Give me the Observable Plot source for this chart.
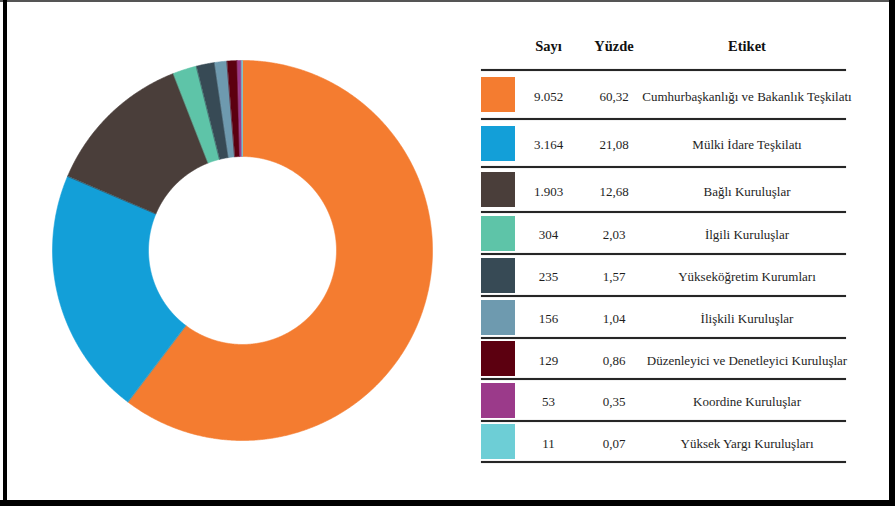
<!DOCTYPE html>
<html><head><meta charset="utf-8">
<script src="https://cdn.jsdelivr.net/npm/d3@7"></script>
<script src="https://cdn.jsdelivr.net/npm/@observablehq/plot@0.6"></script>
<style>
html,body{margin:0;padding:0;background:#fff;}
#page{position:relative;width:895px;height:506px;overflow:hidden;background:#fff;font-family:"Liberation Serif","Times New Roman",serif;color:#1e1e1e;}
.fl{position:absolute;left:3px;top:0;width:4px;height:506px;background:#000;}
.ft{position:absolute;left:0;top:0;width:895px;height:2px;background:#555;}
.fr{position:absolute;left:889px;top:0;width:6px;height:506px;background:#000;}
.fb{position:absolute;left:0;top:500px;width:895px;height:6px;background:#000;}
#chart{position:absolute;left:0;top:0;}
.cell{position:absolute;transform:translate(-50%,-50%);white-space:nowrap;font-size:13px;line-height:1;}
.hdr{font-weight:bold;font-size:14.5px;color:#111;}
.rule{position:absolute;left:481px;width:365px;height:2px;background:#262626;box-shadow:0 0 1px #777;}
.sw{position:absolute;left:481px;width:34px;height:35px;}
</style></head><body>
<div id="page">
<div class="ft"></div><div class="fl"></div><div class="fr"></div><div class="fb"></div>
<div id="chart"></div>
<div id="table"></div>
</div>
<script>
// ---- data ----
const labels = [
  "Cumhurbaşkanlığı ve Bakanlık Teşkilatı",
  "Mülki İdare Teşkilatı",
  "Bağlı Kuruluşlar",
  "İlgili Kuruluşlar",
  "Yükseköğretim Kurumları",
  "İlişkili Kuruluşlar",
  "Düzenleyici ve Denetleyici Kuruluşlar",
  "Koordine Kuruluşlar",
  "Yüksek Yargı Kuruluşları"
];
const counts = [9052, 3164, 1903, 304, 235, 156, 129, 53, 11];
const percents = [60.32, 21.08, 12.68, 2.03, 1.57, 1.04, 0.86, 0.35, 0.07];
const colors = ["#F47C30", "#139FD8", "#4A3E3A", "#5EC4A8", "#374A55", "#6E9AAF", "#5C0010", "#9B3A8A", "#6DCED6"];
const headers = ["Sayı", "Yüzde", "Etiket"];

// ---- donut ----
const W = 484, H = 500, R = 190, r = 94;
const pie = d3.pie().sort(null).value(d => d.count)(labels.map((l, i) => ({label: l, count: counts[i]})));
const pts = [];
pie.forEach(s => {
  const n = Math.max(2, Math.ceil((s.endAngle - s.startAngle) / 0.005));
  for (let k = 0; k <= n; k++) {
    const a = s.startAngle + (s.endAngle - s.startAngle) * k / n;
    pts.push({label: s.data.label, x: R * Math.sin(a), y: R * Math.cos(a)});
  }
  for (let k = n; k >= 0; k--) {
    const a = s.startAngle + (s.endAngle - s.startAngle) * k / n;
    pts.push({label: s.data.label, x: r * Math.sin(a), y: r * Math.cos(a)});
  }
});
const chart = Plot.plot({
  width: W, height: H, margin: 0,
  x: {domain: [-W / 2, W / 2], axis: null},
  y: {domain: [-H / 2, H / 2], axis: null},
  color: {type: "ordinal", domain: labels, range: colors},
  marks: [
    Plot.line(pts, {x: "x", y: "y", z: "label", fill: "label", stroke: "label", strokeWidth: 0.6, curve: "linear-closed"})
  ]
});
document.getElementById("chart").appendChild(chart);

// ---- table ----
const loc = d3.formatLocale({decimal: ",", thousands: ".", grouping: [3], currency: ["", ""]});
const fCount = loc.format(",d"), fPct = loc.format(".2f");
const tbl = document.getElementById("table");
const colX = [548.5, 614, 747];
const lines = [70, 119, 167, 212, 254, 296, 338, 379, 421, 462];
function add(cls, text, x, y) {
  const d = document.createElement("div");
  d.className = cls; d.textContent = text;
  d.style.left = x + "px"; d.style.top = y + "px";
  tbl.appendChild(d);
}
headers.forEach((h, j) => add("cell hdr", h, colX[j], 46));
lines.forEach(y => {
  const d = document.createElement("div");
  d.className = "rule"; d.style.top = (y - 1) + "px";
  tbl.appendChild(d);
});
labels.forEach((l, i) => {
  const cy = (lines[i] + lines[i + 1]) / 2;
  const sw = document.createElement("div");
  sw.className = "sw"; sw.style.top = (cy - 17.5) + "px"; sw.style.background = colors[i];
  tbl.appendChild(sw);
  add("cell", fCount(counts[i]), colX[0], cy + 1);
  add("cell", fPct(percents[i]), colX[1], cy + 1);
  add("cell", l, colX[2], cy + 1);
});
</script>
</body></html>
